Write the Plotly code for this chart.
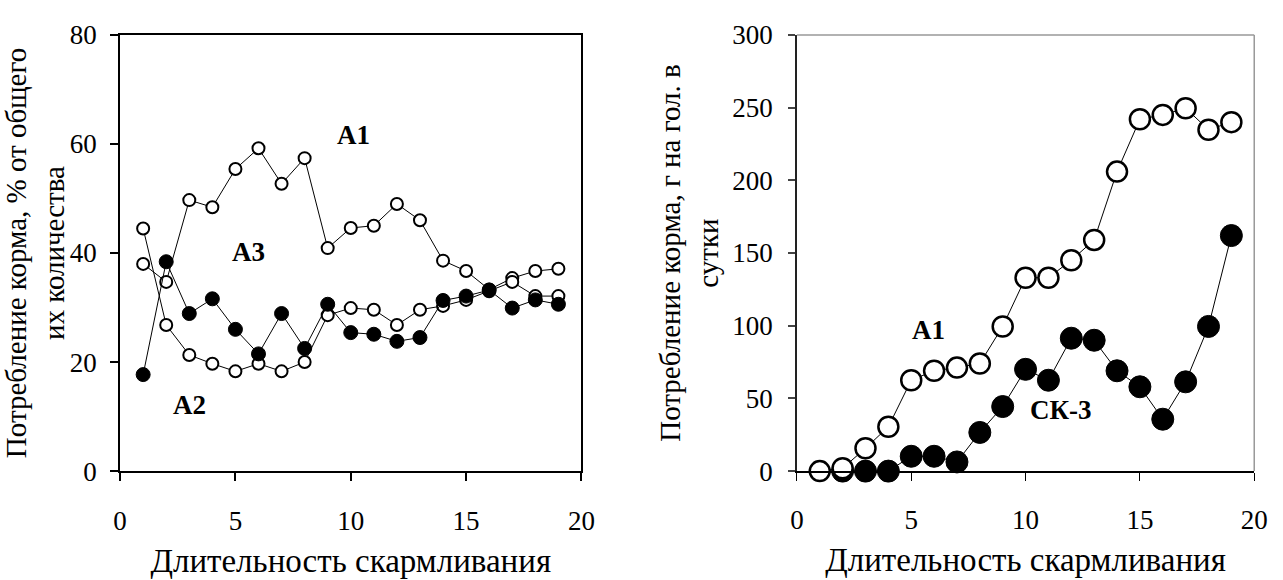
import plotly.graph_objects as go

# ---------- data ----------
days = list(range(1, 20))

# left chart: share of total feed, %
a1_share = [38.0, 34.7, 49.7, 48.4, 55.4, 59.2, 52.7, 57.4, 40.9, 44.6,
            45.0, 49.0, 46.0, 38.6, 36.7, 33.3, 35.4, 36.7, 37.1]
a3_share = [44.5, 26.8, 21.3, 19.7, 18.3, 19.7, 18.3, 20.0, 28.6, 29.9,
            29.6, 26.8, 29.6, 30.3, 31.4, 33.0, 34.7, 32.1, 32.1]
a2_share = [17.7, 38.4, 28.9, 31.6, 26.0, 21.5, 28.9, 22.5, 30.6, 25.4,
            25.1, 23.8, 24.5, 31.3, 32.1, 33.2, 29.9, 31.4, 30.6]

# right chart: feed intake, g per head per day
days_sk3 = list(range(2, 20))
a1_intake = [0, 2, 15.7, 30.5, 62.5, 69, 71.2, 74, 99.5, 133,
             133, 145, 159, 206, 242, 245, 249.6, 234.8, 240]
sk3_intake = [0, 0, 0, 10.2, 10.2, 6.3, 26.6, 44.4, 70, 62.5,
              91.4, 90, 69, 58, 35.7, 61.4, 99.5, 162]

left_labels = ["А1", "А3", "А2"]
left_label_x = [10.1, 5.55, 3.0]
left_label_y = [61.6, 40.2, 12.2]
right_labels = ["А1", "СК-3"]
right_label_x = [5.75, 11.56]
right_label_y = [97.3, 41.8]

x_ticks = [0, 5, 10, 15, 20]
left_y_ticks = [0, 20, 40, 60, 80]
right_y_ticks = [0, 50, 100, 150, 200, 250, 300]

x_title = "Длительность скармливания"
left_y_title = "Потребление корма, % от общего<br>их количества"
right_y_title = "Потребление корма, г на гол. в<br>сутки"

# ---------- figure ----------
FONT = "Liberation Serif, Times New Roman, serif"
fig = go.Figure()

def open_trace(x, y, size, lw, xa, ya):
    return go.Scatter(x=x, y=y, mode="lines+markers", xaxis=xa, yaxis=ya,
                      line=dict(color="black", width=1),
                      marker=dict(symbol="circle", size=size, color="white",
                                  line=dict(color="black", width=lw)),
                      showlegend=False, cliponaxis=False)

def filled_trace(x, y, size, xa, ya):
    return go.Scatter(x=x, y=y, mode="lines+markers", xaxis=xa, yaxis=ya,
                      line=dict(color="black", width=1),
                      marker=dict(symbol="circle", size=size, color="black",
                                  line=dict(color="black", width=1)),
                      showlegend=False, cliponaxis=False)

fig.add_trace(open_trace(days, a1_share, 12, 2, "x", "y"))
fig.add_trace(open_trace(days, a3_share, 12, 2, "x", "y"))
fig.add_trace(filled_trace(days, a2_share, 14, "x", "y"))

fig.add_trace(filled_trace(days_sk3, sk3_intake, 22, "x2", "y2"))
fig.add_trace(open_trace(days, a1_intake, 20, 2.5, "x2", "y2"))

labfont = dict(family=FONT, size=27, color="black", weight="bold")
for t, x, y in zip(left_labels, left_label_x, left_label_y):
    fig.add_annotation(x=x, y=y, xref="x", yref="y", text=t, showarrow=False,
                       font=labfont)
for t, x, y in zip(right_labels, right_label_x, right_label_y):
    fig.add_annotation(x=x, y=y, xref="x2", yref="y2", text=t, showarrow=False,
                       font=labfont)

tickfont = dict(family=FONT, size=27, color="black")
xtitlefont = dict(family=FONT, size=33, color="black")
ytitlefont = dict(family=FONT, size=29, color="black")

common_x = dict(range=[0, 20], tickvals=x_ticks, ticks="outside", ticklen=8,
                tickcolor="black", tickfont=tickfont, showgrid=False,
                zeroline=False, ticklabelstandoff=16,
                title=dict(text=x_title, font=xtitlefont, standoff=14))

fig.update_layout(
    width=1283, height=580,
    margin=dict(l=0, r=0, t=0, b=0),
    paper_bgcolor="white", plot_bgcolor="white",
    xaxis=dict(domain=[0.0896, 0.4552], anchor="y", showline=True,
               linecolor="black", linewidth=2, mirror=True, tickwidth=1.5,
               **common_x),
    yaxis=dict(domain=[0.1707, 0.9638], anchor="x", range=[0, 80],
               tickvals=left_y_ticks, ticks="outside", ticklen=8,
               tickcolor="black", tickwidth=1.5, tickfont=tickfont,
               showline=True, linecolor="black", linewidth=2, mirror=True,
               showgrid=False, zeroline=False, ticklabelstandoff=8,
               title=dict(text=left_y_title, font=ytitlefont, standoff=10)),
    xaxis2=dict(domain=[0.6259, 0.9883], anchor="y2", showline=True,
                linecolor="black", linewidth=1.5, tickwidth=1.2,
                **common_x),
    yaxis2=dict(domain=[0.1707, 0.9638], anchor="x2", range=[0, 300],
                tickvals=right_y_ticks, ticks="outside", ticklen=7,
                tickcolor="#444", tickwidth=1.5, tickfont=tickfont,
                showline=True, linecolor="#222", linewidth=1.5,
                showgrid=False, zeroline=False, ticklabelstandoff=10,
                title=dict(text=right_y_title, font=ytitlefont, standoff=5)),
    shapes=[
        dict(type="line", xref="x2 domain", yref="y2 domain", x0=0, x1=1,
             y0=1, y1=1, line=dict(color="#999", width=1.5)),
        dict(type="line", xref="x2 domain", yref="y2 domain", x0=1, x1=1,
             y0=0, y1=1, line=dict(color="#999", width=1.5)),
    ],
)

fig.write_html("out.html")
